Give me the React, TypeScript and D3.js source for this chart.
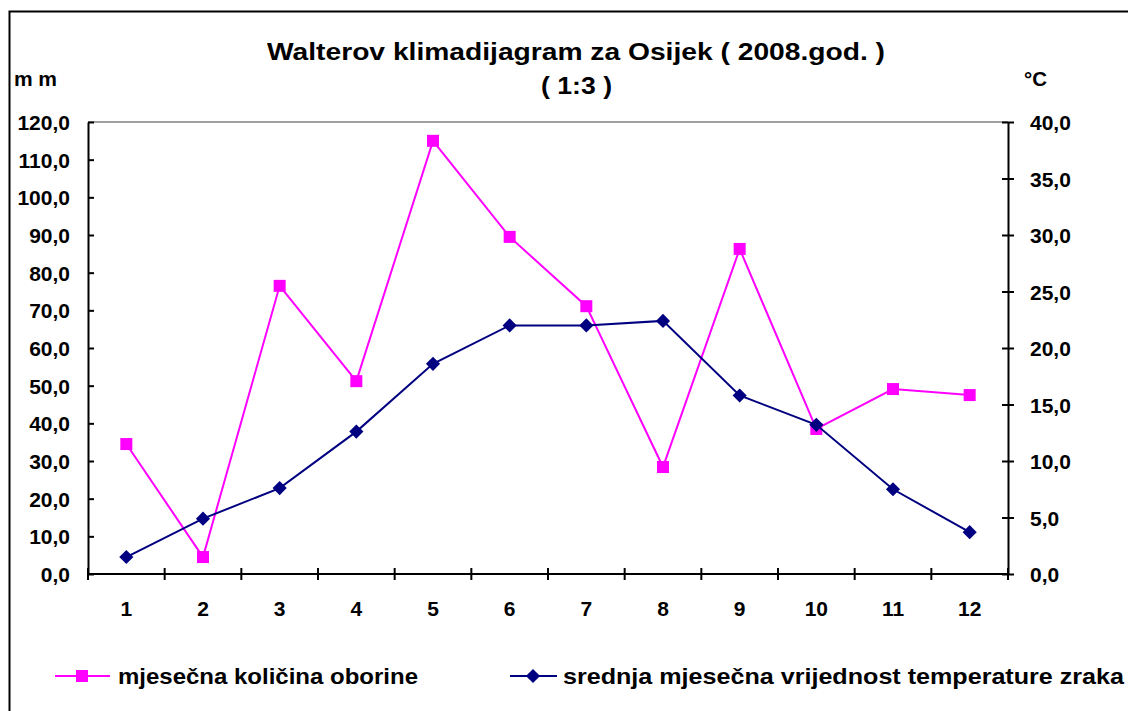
import React, { useEffect, useRef } from 'react';
import * as d3 from 'd3';

// months 1..12
const months = ['1', '2', '3', '4', '5', '6', '7', '8', '9', '10', '11', '12'];
// monthly precipitation (mm)
const precipitation = [34.5, 4.5, 76.5, 51.2, 115.0, 89.5, 71.1, 28.4, 86.3, 38.5, 49.1, 47.5];
// mean monthly air temperature (°C)
const temperature = [1.5, 4.9, 7.6, 12.6, 18.6, 22.0, 22.0, 22.4, 15.8, 13.2, 7.5, 3.7];

const mmTicks = [0, 10, 20, 30, 40, 50, 60, 70, 80, 90, 100, 110, 120];
const cTicks = [0, 5, 10, 15, 20, 25, 30, 35, 40];

const seriesNames = ['mjesečna količina oborine', 'srednja mjesečna vrijednost temperature zraka'];

const App = () => {
  const ref = useRef<SVGSVGElement>(null);

  useEffect(() => {
    const svg = d3.select(ref.current);
    svg.selectAll('*').remove();

    const width = 1128;
    const height = 711;
    const font = 'Arial, "Liberation Sans", sans-serif';
    const pink = '#ff00ff';
    const navy = '#000080';

    // plot area
    const left = 88;
    const right = 1008;
    const top = 122;
    const bottom = 574;

    const x = d3.scaleBand().domain(months).range([left, right]);
    const yL = d3.scaleLinear().domain([0, 120]).range([bottom, top]);
    const yR = d3.scaleLinear().domain([0, 40]).range([bottom, top]);
    const fmt = (v: number) => v.toFixed(1).replace('.', ',');

    svg.append('rect').attr('width', width).attr('height', height).attr('fill', '#fff');

    // outer frame
    svg
      .append('rect')
      .attr('x', 9.5)
      .attr('y', 11.5)
      .attr('width', width + 20)
      .attr('height', height + 20)
      .attr('fill', 'none')
      .attr('stroke', '#000')
      .attr('stroke-width', 2);

    const label = (txt: string, xp: number, yp: number, size: number, len?: number, adj = 'spacingAndGlyphs') => {
      const t = svg
        .append('text')
        .attr('x', xp)
        .attr('y', yp)
        .style('font-family', font)
        .style('font-weight', 'bold')
        .style('font-size', `${size}px`)
        .text(txt);
      if (len) t.attr('textLength', len).attr('lengthAdjust', adj);
      return t;
    };

    // title
    label('Walterov klimadijagram za Osijek ( 2008.god. )', 267, 60, 23, 618);
    label('( 1:3 )', 541, 94, 23, 71);

    // unit labels
    label('mm', 14, 86, 21, 43, 'spacing');
    label('°C', 1024, 86, 21, 23);

    // top border of plot area
    svg
      .append('line')
      .attr('x1', left)
      .attr('x2', right)
      .attr('y1', top)
      .attr('y2', top)
      .attr('stroke', '#808080')
      .attr('stroke-width', 1.5);

    const axisStyle = (g: d3.Selection<SVGGElement, unknown, null, undefined>) => {
      g.select('.domain').attr('stroke', '#000').attr('stroke-width', 2);
      g.selectAll('.tick line').attr('stroke', '#000').attr('stroke-width', 2);
      g.selectAll('.tick text')
        .attr('fill', '#000')
        .style('font-family', font)
        .style('font-weight', 'bold')
        .style('font-size', '21px');
    };

    // left axis
    const gL = svg
      .append('g')
      .attr('transform', `translate(${left},0)`)
      .call(d3.axisLeft(yL).tickValues(mmTicks).tickFormat((d) => fmt(+d)).tickSizeInner(7).tickSizeOuter(0).tickPadding(11));
    axisStyle(gL);
    gL.selectAll('.tick line').attr('x2', 6);
    gL.selectAll('.tick text').attr('dy', '0.36em');

    // right axis
    const gR = svg
      .append('g')
      .attr('transform', `translate(${right},0)`)
      .call(d3.axisRight(yR).tickValues(cTicks).tickFormat((d) => fmt(+d)).tickSizeInner(6).tickSizeOuter(0).tickPadding(16));
    axisStyle(gR);
    gR.selectAll('.tick line').attr('x1', -6);
    gR.selectAll('.tick text').attr('dy', '0.36em');

    // bottom axis with ticks between categories
    const gB = svg.append('g').attr('transform', `translate(0,${bottom})`);
    gB.append('line')
      .attr('x1', left)
      .attr('x2', right)
      .attr('stroke', '#000')
      .attr('stroke-width', 2);
    const bounds = months.map((m) => x(m) as number).concat([right]);
    gB.selectAll('.xt')
      .data(bounds)
      .enter()
      .append('line')
      .attr('x1', (d) => d)
      .attr('x2', (d) => d)
      .attr('y1', -6)
      .attr('y2', 6)
      .attr('stroke', '#000')
      .attr('stroke-width', 2);
    gB.selectAll('.xl')
      .data(months)
      .enter()
      .append('text')
      .attr('x', (d) => (x(d) as number) + x.bandwidth() / 2)
      .attr('y', 42)
      .attr('text-anchor', 'middle')
      .style('font-family', font)
      .style('font-weight', 'bold')
      .style('font-size', '21px')
      .text((d) => d);

    const cx = (i: number) => (x(months[i]) as number) + x.bandwidth() / 2;

    // precipitation series
    const lineP = d3
      .line<number>()
      .x((_, i) => cx(i))
      .y((d) => yL(d));
    svg.append('path').datum(precipitation).attr('d', lineP).attr('fill', 'none').attr('stroke', pink).attr('stroke-width', 2);
    svg
      .selectAll('.sq')
      .data(precipitation)
      .enter()
      .append('rect')
      .attr('x', (_, i) => cx(i) - 6)
      .attr('y', (d) => yL(d) - 6)
      .attr('width', 12)
      .attr('height', 12)
      .attr('fill', pink);

    // temperature series
    const lineT = d3
      .line<number>()
      .x((_, i) => cx(i))
      .y((d) => yR(d));
    svg.append('path').datum(temperature).attr('d', lineT).attr('fill', 'none').attr('stroke', navy).attr('stroke-width', 2);
    const diamond = d3.symbol().type(d3.symbolSquare).size(100);
    svg
      .selectAll('.dm')
      .data(temperature)
      .enter()
      .append('path')
      .attr('d', diamond)
      .attr('transform', (d, i) => `translate(${cx(i)},${yR(d)}) rotate(45)`)
      .attr('fill', navy);

    // legend
    const ly = 676;
    svg.append('line').attr('x1', 55).attr('x2', 110).attr('y1', ly).attr('y2', ly).attr('stroke', pink).attr('stroke-width', 2);
    svg.append('rect').attr('x', 76).attr('y', ly - 6).attr('width', 12).attr('height', 12).attr('fill', pink);
    label(seriesNames[0], 118, ly + 8, 22, 300);
    svg.append('line').attr('x1', 510).attr('x2', 557).attr('y1', ly).attr('y2', ly).attr('stroke', navy).attr('stroke-width', 2);
    svg.append('path').attr('d', diamond).attr('transform', `translate(533,${ly}) rotate(45)`).attr('fill', navy);
    label(seriesNames[1], 563, ly + 8, 22, 561);
  }, []);

  return (
    <div style={{ position: 'absolute', left: 0, top: 0 }}>
      <svg ref={ref} width={1128} height={711} style={{ display: 'block' }}></svg>
    </div>
  );
};

export default App;
